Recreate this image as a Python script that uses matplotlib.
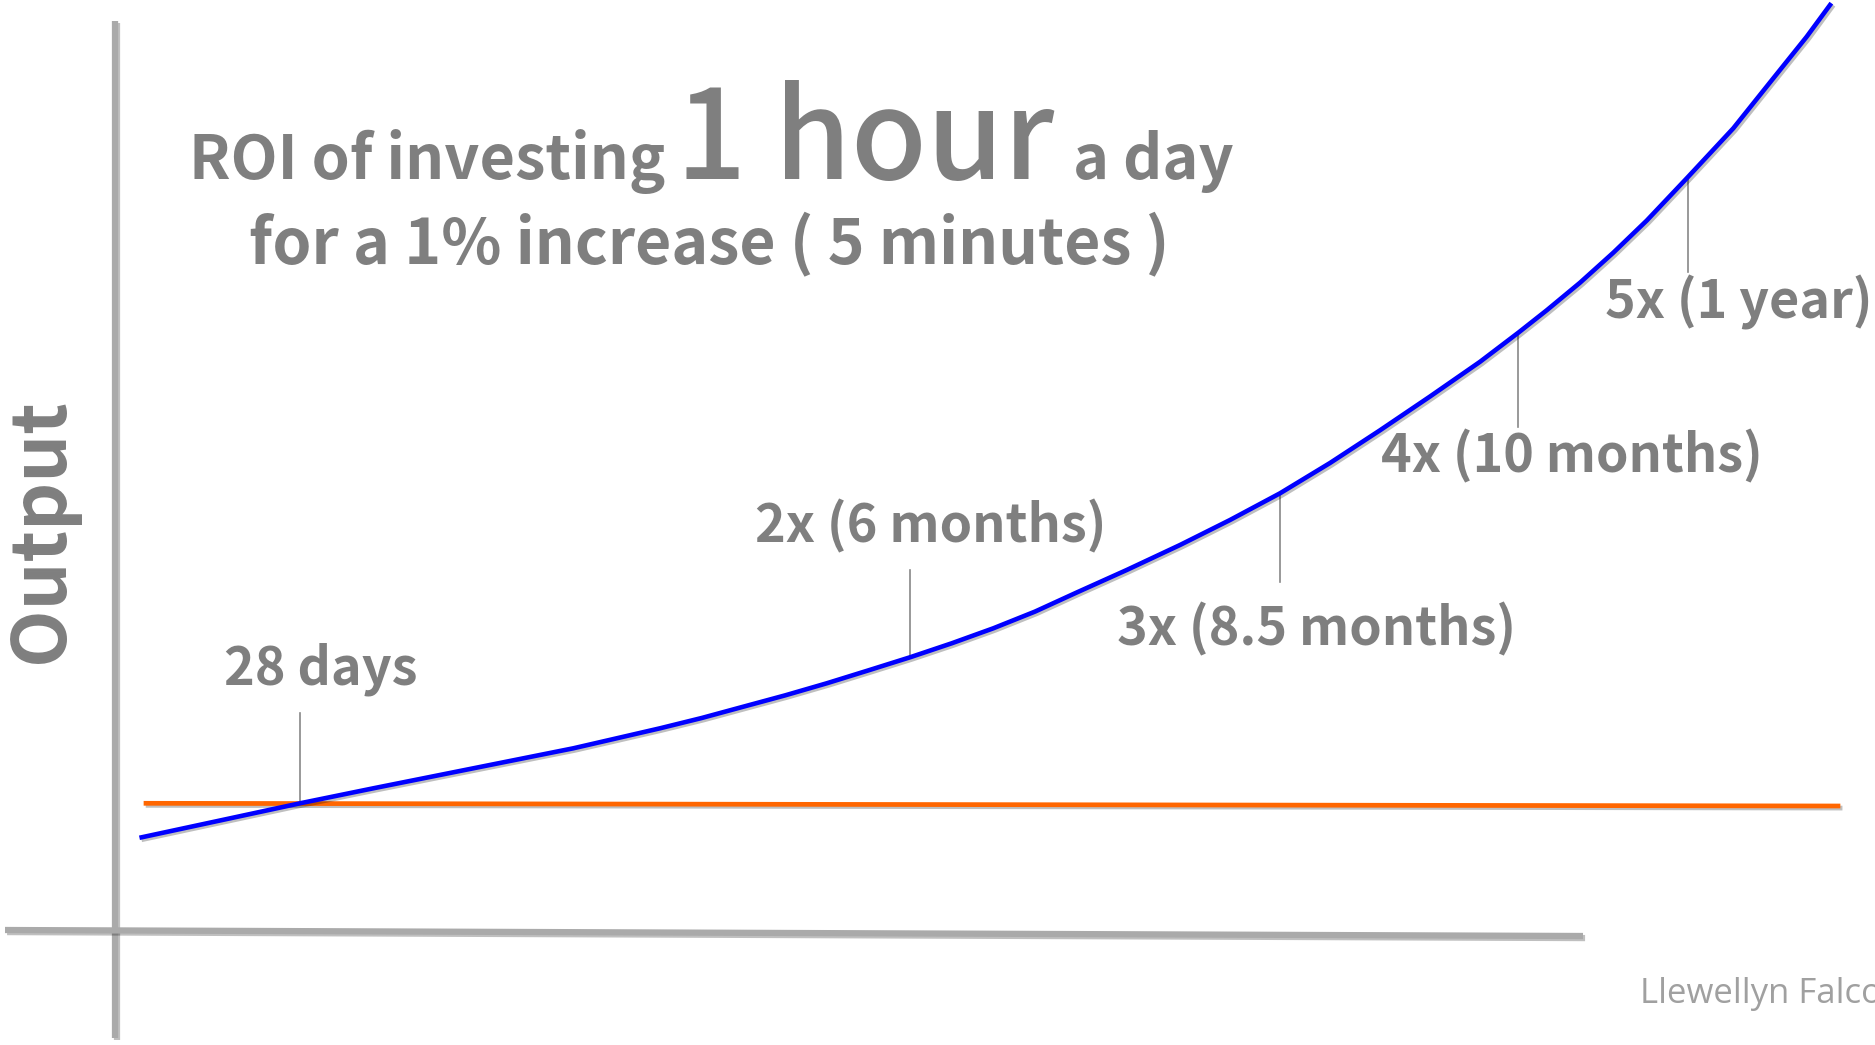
import matplotlib
matplotlib.use("Agg")
import matplotlib.pyplot as plt
import matplotlib.patheffects as pe

# blue curve: 1% better every day (time units, output units)
time = [2.67, 10.5, 18.5, 25.83, 30.83, 35.83, 40.83, 45.83, 50.17, 54.5,
        58.67, 62.83, 67.0, 71.17, 75.33, 79.5, 83.67, 87.83, 92.0, 96.17,
        101.17, 106.5, 111.5, 116.5, 121.5, 126.5, 131.5, 136.5, 140.33,
        143.17, 146.5, 149.83, 153.17, 157.23, 161.83, 165.83, 169.17, 171.5]
output = [9.27, 10.95, 12.67, 14.17, 15.17, 16.17, 17.17, 18.17, 19.17, 20.17,
          21.2, 22.33, 23.46, 24.67, 25.96, 27.27, 28.67, 30.17, 31.84, 33.75,
          36.0, 38.5, 41.0, 43.67, 46.7, 49.97, 53.35, 56.82, 59.73,
          61.97, 64.73, 67.73, 70.94, 75.23, 80.17, 85.17, 89.33, 92.5]

# orange baseline: no change
flat_time = [3.1, 172.3]
flat_output = [12.67, 12.4]

# milestones on the curve
milestones = ["28 days", "2x (6 months)", "3x (8.5 months)", "4x (10 months)", "5x (1 year)"]
ms_time = [18.5, 79.5, 116.5, 140.3, 157.25]
ms_curve = [12.67, 27.27, 43.67, 59.73, 75.23]
ms_tick_end = [21.7, 36.0, 34.8, 50.3, 65.8]
ms_label_x = [20.55, 81.6, 120.15, 145.7, 162.4]
ms_label_y = [24.5, 38.8, 28.5, 45.8, 61.2]

GREY = "#7f7f7f"
FONT = ["Noto Sans CJK JP", "DejaVu Sans"]

fig = plt.figure(figsize=(18.75, 10.45), dpi=100)
ax = fig.add_axes([0, 0, 1, 1])
ax.set_xlim(-11.5, 176.0)
ax.set_ylim(-11.5, 93.0)
ax.axis("off")

shadow = [pe.SimpleLineShadow(offset=(1.5, -1.5), alpha=0.25), pe.Normal()]

# axes drawn by hand
ax.plot([0, 0], [90.9, -10.8], color="#aaaaaa", lw=4.5, solid_capstyle="butt",
        path_effects=shadow, zorder=1)
ax.plot([-11.0, 146.8], [0, -0.6], color="#aaaaaa", lw=4.5, solid_capstyle="butt",
        path_effects=shadow, zorder=1)

ax.plot(flat_time, flat_output, color="#ff6600", lw=3.4, path_effects=shadow, zorder=3)
ax.plot(time, output, color="#0000ff", lw=3.3, path_effects=shadow, zorder=4,
        solid_joinstyle="round")

for lab, x, yc, ye, lx, ly in zip(milestones, ms_time, ms_curve, ms_tick_end,
                                  ms_label_x, ms_label_y):
    ax.plot([x, x], [yc, ye], color="#888888", lw=1.2, zorder=2)
    ax.text(x=lx, y=ly, s=lab, ha="center", va="baseline", color=GREY,
            fontsize=37.5, fontweight="bold", family=FONT)

# title
ax.text(7.4, 75.1, "ROI of investing", ha="left", va="baseline", color=GREY,
        fontsize=44, fontweight="bold", family=FONT)
ax.text(56.1, 75.1, "1 hour", ha="left", va="baseline", color=GREY,
        fontsize=89, fontweight="medium", family=FONT)
ax.text(95.8, 75.1, "a day", ha="left", va="baseline", color=GREY,
        fontsize=44, fontweight="bold", family=FONT)
ax.text(59.4, 66.7, "for a 1% increase ( 5 minutes )", ha="center", va="baseline",
        color=GREY, fontsize=45, fontweight="bold", family=FONT)

ax.text(-7.4, 39.9, "Output", rotation=90, ha="center", va="center", color=GREY,
        fontsize=54, fontweight="bold", family=FONT)

# signature name
ax.text(152.5, -7.3, "Llewellyn Falco", ha="left", va="baseline", color="#a0a0a0",
        fontsize=25, family=["Open Sans", "DejaVu Sans"])

fig.savefig("out.png", dpi=100, facecolor="white")
